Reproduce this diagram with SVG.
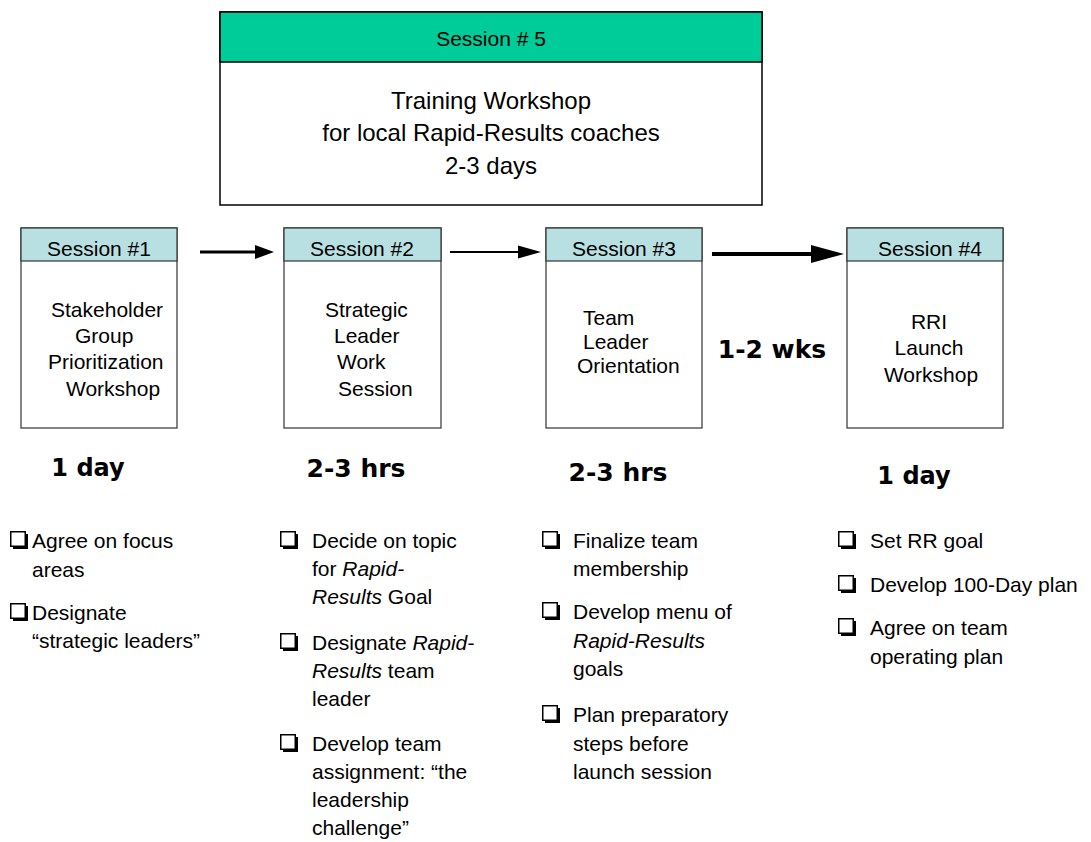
<svg xmlns="http://www.w3.org/2000/svg" width="1091" height="842" viewBox="0 0 1091 842">
<defs>
<style>
text{font-family:"Liberation Sans",Arial,sans-serif;fill:#000}
.t{font-size:21px}
.tc{font-size:21px;text-anchor:middle}
.big{font-size:24px;text-anchor:middle}
.b{font-family:"DejaVu Sans",Verdana,sans-serif;font-size:25px;font-weight:bold;text-anchor:middle}
.b1{font-size:24px}
.hdr{fill:#b8e0e2;stroke:#333;stroke-width:1.2}
.box{fill:#fff;stroke:#333;stroke-width:1.2}
.i{font-style:italic}
.conn{stroke:#000;fill:none}
</style>
<marker id="ah1" markerUnits="userSpaceOnUse" markerWidth="20" markerHeight="16" refX="0" refY="8" orient="auto"><path d="M0,1 L19,8 L0,15 Z" fill="#000"/></marker>
<marker id="ah2" markerUnits="userSpaceOnUse" markerWidth="24" markerHeight="14" refX="0" refY="7" orient="auto"><path d="M0,0.5 L23,7 L0,13.5 Z" fill="#000"/></marker>
<marker id="ah3" markerUnits="userSpaceOnUse" markerWidth="34" markerHeight="20" refX="0" refY="10" orient="auto"><path d="M0,1 L33,10 L0,19 Z" fill="#000"/></marker>
<g id="cb"><rect x="3" y="3" width="15" height="15" fill="#000"/><rect x="0.75" y="0.75" width="14.5" height="14.5" fill="#fff" stroke="#000" stroke-width="1.5"/></g>
</defs>
<rect width="1091" height="842" fill="#fff"/>

<g id="session5">
<rect x="220" y="12" width="542" height="193" fill="#fff" stroke="#000" stroke-width="1.5"/>
<rect x="220" y="12" width="542" height="50" fill="#00cc99" stroke="#000" stroke-width="1.5"/>
<text class="tc" x="491" y="46">Session # 5</text>
<text class="big" x="491" y="109">Training Workshop</text>
<text class="big" x="491" y="141">for local Rapid-Results coaches</text>
<text class="big" x="491" y="174">2-3 days</text>
</g>

<g id="session1">
<rect class="box" x="21" y="228" width="156" height="200"/>
<rect class="hdr" x="21" y="228" width="156" height="33"/>
<text class="tc" x="99" y="256">Session #1</text>
<text class="t" x="51" y="317">Stakeholder</text>
<text class="t" x="75" y="343">Group</text>
<text class="t" x="48" y="369">Prioritization</text>
<text class="t" x="66" y="396">Workshop</text>
</g>

<g id="session2">
<rect class="box" x="284" y="228" width="157" height="200"/>
<rect class="hdr" x="284" y="228" width="157" height="33"/>
<text class="tc" x="362" y="256">Session #2</text>
<text class="t" x="325" y="317">Strategic</text>
<text class="t" x="334" y="343">Leader</text>
<text class="t" x="337" y="369">Work</text>
<text class="t" x="338" y="396">Session</text>
</g>

<g id="session3">
<rect class="box" x="546" y="228" width="156" height="200"/>
<rect class="hdr" x="546" y="228" width="156" height="33"/>
<text class="tc" x="624" y="256">Session #3</text>
<text class="t" x="583" y="325">Team</text>
<text class="t" x="583" y="349">Leader</text>
<text class="t" x="577" y="373">Orientation</text>
</g>

<g id="session4">
<rect class="box" x="847" y="228" width="156" height="200"/>
<rect class="hdr" x="847" y="228" width="156" height="33"/>
<text class="tc" x="930" y="256">Session #4</text>
<text class="tc" x="929" y="329">RRI</text>
<text class="tc" x="929" y="355">Launch</text>
<text class="tc" x="931" y="382">Workshop</text>
</g>

<g id="connectors">
<line class="conn" x1="200" y1="252" x2="255" y2="252" stroke-width="3" marker-end="url(#ah1)"/>
<line class="conn" x1="450" y1="252" x2="518" y2="252" stroke-width="2" marker-end="url(#ah2)"/>
<line class="conn" x1="712" y1="254" x2="811" y2="254" stroke-width="4" marker-end="url(#ah3)"/>
</g>

<g id="durations">
<text class="b b1" x="88" y="476">1 day</text>
<text class="b" x="356" y="477">2-3 hrs</text>
<text class="b" x="618" y="481">2-3 hrs</text>
<text class="b b1" x="914" y="484">1 day</text>
<text class="b" x="772" y="358">1-2 wks</text>
</g>

<g id="list1">
<use href="#cb" x="10" y="531"/>
<text class="t" x="32" y="548">Agree on focus</text>
<text class="t" x="32" y="577">areas</text>
<use href="#cb" x="10" y="603"/>
<text class="t" x="32" y="620">Designate</text>
<text class="t" x="32" y="648">“strategic leaders”</text>
</g>

<g id="list2">
<use href="#cb" x="280" y="531"/>
<text class="t" x="312" y="548">Decide on topic</text>
<text class="t" x="312" y="576">for <tspan class="i">Rapid-</tspan></text>
<text class="t" x="312" y="604"><tspan class="i">Results</tspan> Goal</text>
<use href="#cb" x="280" y="633"/>
<text class="t" x="312" y="650">Designate <tspan class="i">Rapid-</tspan></text>
<text class="t" x="312" y="678"><tspan class="i">Results</tspan> team</text>
<text class="t" x="312" y="706">leader</text>
<use href="#cb" x="280" y="734"/>
<text class="t" x="312" y="751">Develop team</text>
<text class="t" x="312" y="779">assignment: “the</text>
<text class="t" x="312" y="807">leadership</text>
<text class="t" x="312" y="835">challenge”</text>
</g>

<g id="list3">
<use href="#cb" x="542" y="531"/>
<text class="t" x="573" y="548">Finalize team</text>
<text class="t" x="573" y="576">membership</text>
<use href="#cb" x="542" y="602"/>
<text class="t" x="573" y="619">Develop menu of</text>
<text class="t" x="573" y="648"><tspan class="i">Rapid-Results</tspan></text>
<text class="t" x="573" y="676">goals</text>
<use href="#cb" x="542" y="705"/>
<text class="t" x="573" y="722">Plan preparatory</text>
<text class="t" x="573" y="751">steps before</text>
<text class="t" x="573" y="779">launch session</text>
</g>

<g id="list4">
<use href="#cb" x="838" y="531"/>
<text class="t" x="870" y="548">Set RR goal</text>
<use href="#cb" x="838" y="575"/>
<text class="t" x="870" y="592">Develop 100-Day plan</text>
<use href="#cb" x="838" y="618"/>
<text class="t" x="870" y="635">Agree on team</text>
<text class="t" x="870" y="664">operating plan</text>
</g>
</svg>
